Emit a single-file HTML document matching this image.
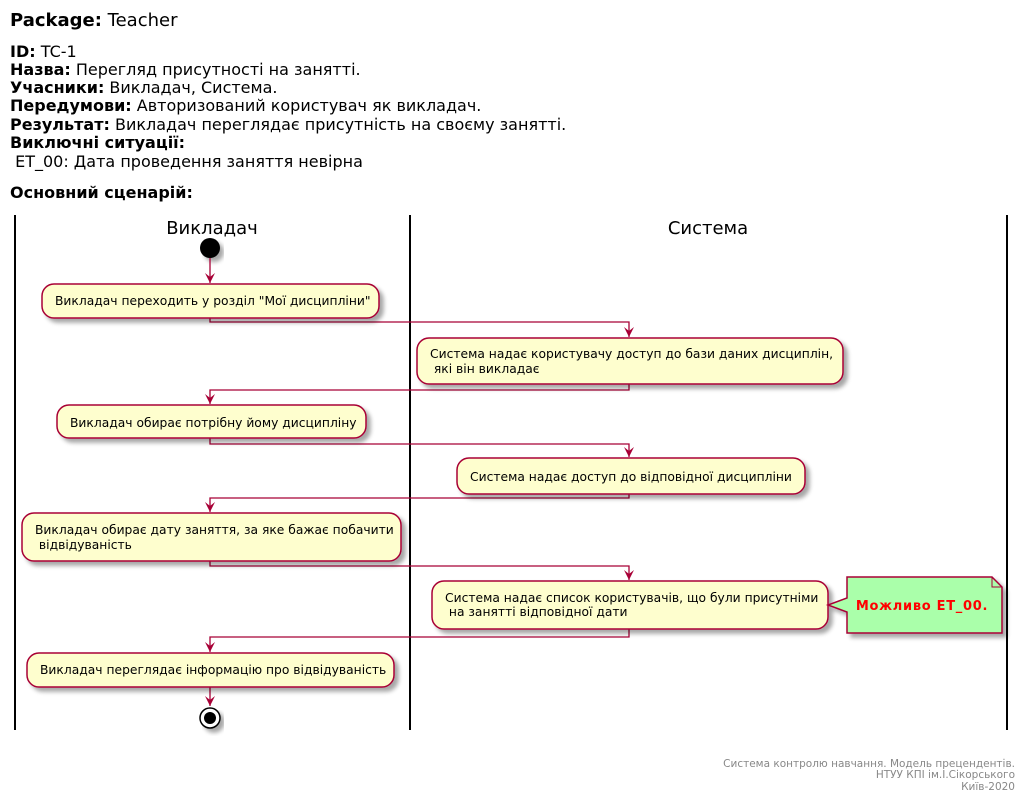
<!DOCTYPE html>
<html><head><meta charset="utf-8"><style>body{margin:0;background:#fff}svg{display:block}text{font-family:"DejaVu Sans","Liberation Sans",sans-serif}</style></head><body>
<svg width="1026" height="802" viewBox="0 0 1026 802" xmlns="http://www.w3.org/2000/svg">
<defs>
<filter id="sh" x="-10%" y="-10%" width="130%" height="150%"><feGaussianBlur in="SourceAlpha" stdDeviation="2"/><feOffset dx="4" dy="4"/><feComponentTransfer><feFuncA type="linear" slope="0.35"/></feComponentTransfer><feMerge><feMergeNode/><feMergeNode in="SourceGraphic"/></feMerge></filter>
<marker id="ar" markerWidth="12" markerHeight="12" refX="5" refY="10" orient="0" markerUnits="userSpaceOnUse"><path d="M0,0 L5,10 L10,0 L5,4 Z" fill="#A80036"/></marker>
</defs>
<g font-size="16" fill="#000">
<text x="10" y="26" font-size="18"><tspan font-weight="bold">Package:</tspan> Teacher</text>
<text x="10" y="57"><tspan font-weight="bold">ID:</tspan> TC-1</text>
<text x="10" y="75"><tspan font-weight="bold">Назва:</tspan> Перегляд присутності на занятті.</text>
<text x="10" y="93"><tspan font-weight="bold">Учасники:</tspan> Викладач, Система.</text>
<text x="10" y="111"><tspan font-weight="bold">Передумови:</tspan> Авторизований користувач як викладач.</text>
<text x="10" y="130"><tspan font-weight="bold">Результат:</tspan> Викладач переглядає присутність на своєму занятті.</text>
<text x="10" y="148" font-weight="bold">Виключні ситуації:</text>
<text x="10" y="167">&#160;ET_00: Дата проведення заняття невірна</text>
<text x="10" y="198" font-weight="bold">Основний сценарій:</text>
</g>
<g stroke="#000" stroke-width="2"><line x1="15" y1="215" x2="15" y2="730"/><line x1="410" y1="215" x2="410" y2="730"/><line x1="1007" y1="215" x2="1007" y2="730"/></g>
<text x="212" y="234" font-size="18" text-anchor="middle">Викладач</text>
<text x="708" y="234" font-size="18" text-anchor="middle">Система</text>
<circle cx="210" cy="248" r="10" fill="#000" filter="url(#sh)"/>
<g fill="none" stroke="#A80036" stroke-width="1.3">
<path d="M210,258 V283" marker-end="url(#ar)"/>
<path d="M210,318 V322 H629 V337" marker-end="url(#ar)"/>
<path d="M629,384 V390 H210 V404" marker-end="url(#ar)"/>
<path d="M210,438 V444 H629 V457" marker-end="url(#ar)"/>
<path d="M629,494 V498 H210 V512" marker-end="url(#ar)"/>
<path d="M210,561 V566 H629 V580" marker-end="url(#ar)"/>
<path d="M629,629 V637 H210 V652" marker-end="url(#ar)"/>
<path d="M210,687 V706" marker-end="url(#ar)"/>
</g>
<g fill="#FEFECE" stroke="#A80036" stroke-width="1.5" filter="url(#sh)">
<rect x="42" y="284" width="337" height="34" rx="12"/>
<rect x="417" y="338" width="426" height="46" rx="12"/>
<rect x="57" y="405" width="309" height="33" rx="12"/>
<rect x="457" y="458" width="348" height="36" rx="12"/>
<rect x="22" y="513" width="379" height="48" rx="12"/>
<rect x="432" y="581" width="396" height="48" rx="12"/>
<rect x="27" y="653" width="367" height="34" rx="12"/>
<path d="M847,577 H992 L1002,587 V633 H847 V612 L828,605 L847,598 Z" fill="#AAFFAA"/>
</g>
<path d="M992,577 V587 H1002" fill="none" stroke="#A80036" stroke-width="1"/>
<g font-size="12.3" fill="#000">
<text x="55" y="305">Викладач переходить у розділ "Мої дисципліни"</text>
<text x="430" y="358">Система надає користувачу доступ до бази даних дисциплін,</text>
<text x="430" y="373">&#160;які він викладає</text>
<text x="70" y="427">Викладач обирає потрібну йому дисципліну</text>
<text x="470" y="481">Система надає доступ до відповідної дисципліни</text>
<text x="35" y="534">Викладач обирає дату заняття, за яке бажає побачити</text>
<text x="35" y="549">&#160;відвідуваність</text>
<text x="445" y="602">Система надає список користувачів, що були присутніми</text>
<text x="445" y="616">&#160;на занятті відповідної дати</text>
<text x="40" y="674">Викладач переглядає інформацію про відвідуваність</text>
</g>
<text x="922" y="610" font-size="13" font-weight="bold" fill="#FF0000" text-anchor="middle" letter-spacing="0.7">Можливо ET_00.</text>
<circle cx="210" cy="718" r="10" fill="#fff" stroke="#000" stroke-width="1.5" filter="url(#sh)"/>
<circle cx="210" cy="718" r="6" fill="#000"/>
<g font-size="10.5" fill="#888" text-anchor="end">
<text x="1015" y="767">Система контролю навчання. Модель прецендентів.</text>
<text x="1015" y="778">НТУУ КПІ ім.І.Сікорського</text>
<text x="1015" y="790">Київ-2020</text>
</g>
</svg>
</body></html>
